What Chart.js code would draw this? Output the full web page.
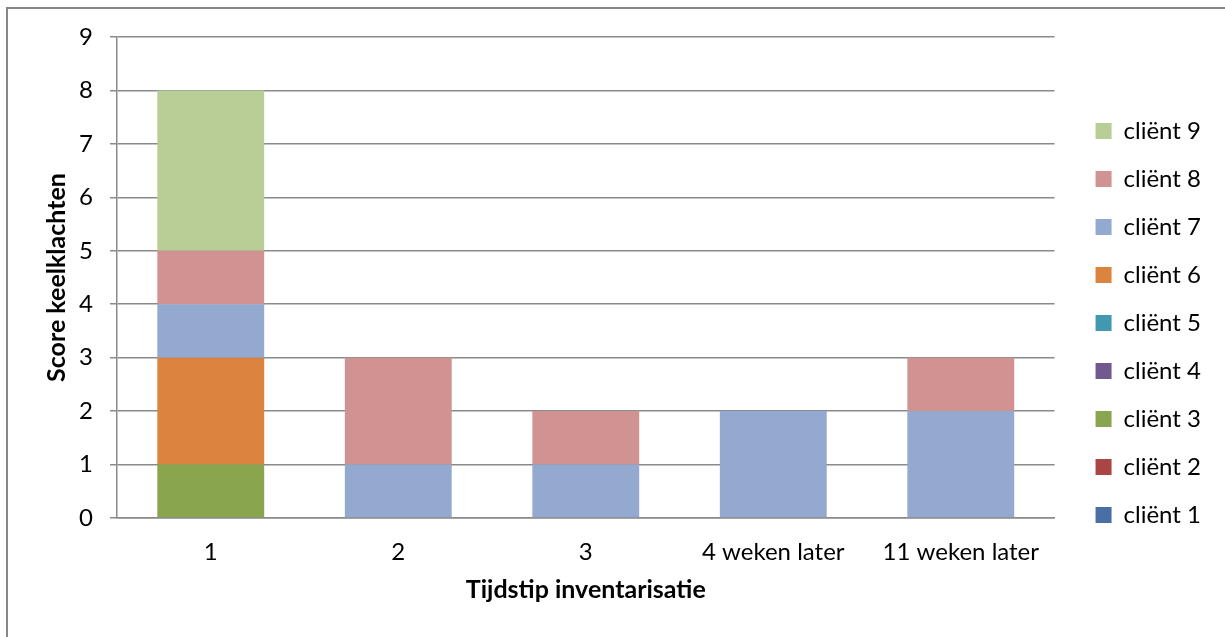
<!DOCTYPE html>
<html><head><meta charset="utf-8">
<script src="https://cdn.jsdelivr.net/npm/chart.js@4"></script>
<style>
html,body{margin:0;padding:0;background:#fff;overflow:hidden;width:1225px;height:637px}
#frame{position:absolute;left:6px;top:7px;width:1300px;height:700px;border-left:2px solid #878787;border-top:2px solid #878787;box-sizing:border-box}
#wrap{position:absolute;left:0;top:0;width:1225px;height:637px}
</style></head>
<body><div id="frame"></div><div id="wrap"><canvas id="c" width="1225" height="637"></canvas></div>
<script>
const categories = ['1', '2', '3', '4 weken later', '11 weken later'];
const seriesNames = ['cliënt 1','cliënt 2','cliënt 3','cliënt 4','cliënt 5','cliënt 6','cliënt 7','cliënt 8','cliënt 9'];
const client1 = [0, 0, 0, 0, 0];
const client2 = [0, 0, 0, 0, 0];
const client3 = [1, 0, 0, 0, 0];
const client4 = [0, 0, 0, 0, 0];
const client5 = [0, 0, 0, 0, 0];
const client6 = [2, 0, 0, 0, 0];
const client7 = [1, 1, 1, 2, 2];
const client8 = [1, 2, 1, 0, 1];
const client9 = [3, 0, 0, 0, 0];
const yTicks = [0, 1, 2, 3, 4, 5, 6, 7, 8, 9];
const yTitle = 'Score keelklachten';
const xTitle = 'Tijdstip inventarisatie';

const seriesValues = [client1, client2, client3, client4, client5, client6, client7, client8, client9];
const colors = ['#4A6FA5','#A94644','#89A54E','#71588F','#4198AF','#DB843D','#93A9CF','#D19392','#B9CD96'];

const FONT = 'Lato, "Open Sans", sans-serif';
const gridColor = '#8a8a8a';

const legendShift = {
  id: 'legendShift',
  afterLayout(chart) {
    const lg = chart.legend;
    if (!lg) return;
    lg.left += 17; lg.right += 17;
    lg.top -= 14; lg.bottom -= 14;
  }
};

new Chart(document.getElementById('c'), {
  type: 'bar',
  data: {
    labels: categories,
    datasets: seriesValues.map((v, i) => ({
      label: seriesNames[i],
      data: v,
      backgroundColor: colors[i],
      borderWidth: 0,
      categoryPercentage: 1,
      barPercentage: 0.57
    }))
  },
  plugins: [legendShift],
  options: {
    responsive: false,
    animation: false,
    devicePixelRatio: 1,
    layout: { padding: { left: 10, right: 31, top: 37, bottom: 0 } },
    plugins: {
      tooltip: { enabled: false },
      legend: {
        position: 'right',
        reverse: true,
        labels: {
          boxWidth: 16, boxHeight: 16, padding: 24,
          color: '#000',
          font: { family: FONT, size: 24 }
        }
      }
    },
    scales: {
      x: {
        stacked: true,
        grid: { display: false, drawTicks: false },
        border: { display: true, color: gridColor, width: 1.5 },
        ticks: { color: '#000', padding: 20, font: { family: FONT, size: 24 }, maxRotation: 0 },
        title: { display: true, text: xTitle, color: '#000', padding: { top: 0, bottom: 32 }, font: { family: FONT, size: 25, weight: 'bold' } },
        afterFit: s => { s.height = 119; }
      },
      y: {
        stacked: true,
        min: 0, max: 9,
        afterBuildTicks: s => { s.ticks = yTicks.map(v => ({ value: v })); },
        grid: { color: gridColor, lineWidth: 1.5, tickLength: 7, drawTicks: true },
        border: { display: true, color: gridColor, width: 1.5 },
        ticks: { color: '#000', padding: 17, font: { family: FONT, size: 24 } },
        title: { display: true, text: yTitle, color: '#000', padding: { top: 32, bottom: 0 }, font: { family: FONT, size: 25, weight: 'bold' } },
        afterFit: s => { s.width = 107; }
      }
    }
  }
});
</script>
</body></html>
